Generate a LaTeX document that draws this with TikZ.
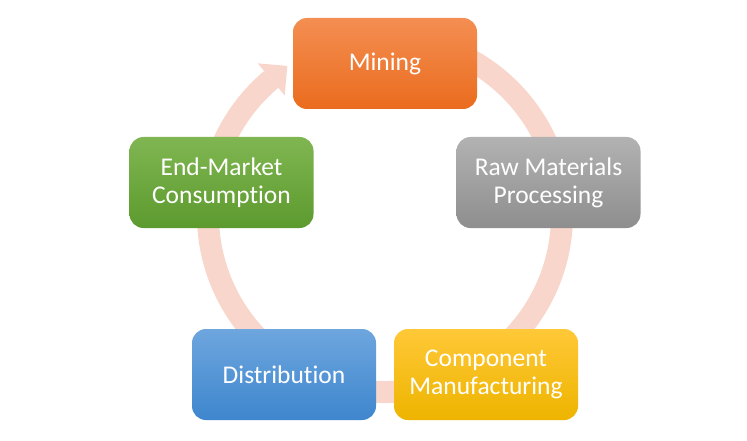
\documentclass[tikz,border=0pt]{standalone}
\usepackage{fontspec}
\setmainfont{Carlito}[RawFeature={-liga;-clig}]
\usetikzlibrary{calc}
\definecolor{ringc}{RGB}{248,214,203}
\definecolor{orT}{RGB}{244,142,82}
\definecolor{orB}{RGB}{234,108,30}
\definecolor{grT}{RGB}{178,178,178}
\definecolor{grB}{RGB}{142,142,142}
\definecolor{yeT}{RGB}{255,200,55}
\definecolor{yeB}{RGB}{238,180,0}
\definecolor{blT}{RGB}{110,166,222}
\definecolor{blB}{RGB}{62,134,206}
\definecolor{gnT}{RGB}{128,182,82}
\definecolor{gnB}{RGB}{92,154,46}
\tikzset{
  stepbox/.style={shade, rounded corners=14pt, minimum width=184pt, minimum height=91pt,
    inner sep=0pt, align=center, text=white, font=\fontsize{25.5}{28}\selectfont},
  ring/.style={draw=ringc, line width=22pt}
}
\begin{document}
\begin{tikzpicture}[x=1pt,y=1pt]
\useasboundingbox (0,0) rectangle (747,440);
\coordinate (rc) at (385,225);
% ring
\draw[ring] ($(rc)+(80:177)$) arc[start angle=80, end angle=-230, radius=177];
\fill[ringc] ($(rc)+(130:156)$) -- ($(rc)+(130:198)$) -- ($(rc)+(130:177)+(40:21)$) -- cycle;
% boxes
\node[stepbox, top color=orT, bottom color=orB] (mining) at (385,376.5) {Mining};
\node[stepbox, top color=grT, bottom color=grB] (raw) at (548.5,257.5) {Raw Materials\\Processing};
\node[stepbox, top color=yeT, bottom color=yeB] (comp) at (486,65.5) {Component\\Manufacturing};
\node[stepbox, top color=blT, bottom color=blB] (dist) at (284,65.5) {Distribution};
\node[stepbox, top color=gnT, bottom color=gnB] (end) at (221.5,257.5) {End-Market\\Consumption};
\end{tikzpicture}
\end{document}
